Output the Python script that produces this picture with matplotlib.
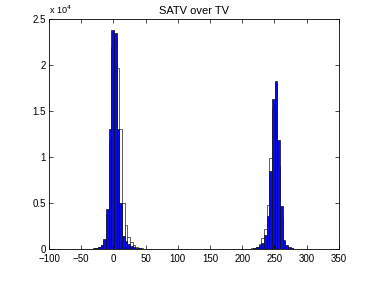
import matplotlib
matplotlib.use("Agg")
import matplotlib.pyplot as plt
from matplotlib.ticker import FuncFormatter

plt.rcParams['font.family'] = ['Liberation Sans', 'DejaVu Sans']

bin_width = 4.16
bin_centers = [-34.5, -30.3, -26.2, -22.0, -17.8, -13.7, -9.5, -5.4, -1.2, 3.0,
               7.1, 11.3, 15.4, 19.6, 23.8, 27.9, 32.1, 36.2, 40.4, 44.6, 48.7,
               206.8, 211.0, 215.1, 219.3, 223.4, 227.6, 231.8, 235.9, 240.1, 244.2,
               248.4, 252.6, 256.7, 260.9, 265.0, 269.2, 273.4, 277.5, 281.7, 285.8, 290.0]
tv_counts = [30, 50, 100, 200, 400, 900, 3800, 12000, 22000, 23000,
             19700, 13100, 5000, 2600, 1300, 800, 450, 250, 150, 80, 40,
             30, 40, 60, 120, 250, 500, 1200, 2200, 4800, 9850,
             15300, 18000, 9000, 3500, 800, 300, 150, 80, 40, 20, 10]
satv_counts = [30, 60, 120, 250, 450, 1100, 4400, 13100, 23800, 23500,
               13100, 5000, 1400, 900, 550, 350, 200, 120, 70, 40, 20,
               20, 30, 50, 100, 200, 400, 700, 1500, 3600, 8500,
               16300, 18300, 11800, 4700, 1000, 400, 200, 100, 50, 20, 10]
x_ticks = [-100, -50, 0, 50, 100, 150, 200, 250, 300, 350]
y_ticks = [0, 5000, 10000, 15000, 20000, 25000]

fig = plt.figure(figsize=(3.74, 2.81), dpi=100)
ax = fig.add_axes([0.131, 0.114, 0.775, 0.818])

ax.bar(bin_centers, tv_counts, width=bin_width, facecolor='white',
       edgecolor='#222222', linewidth=0.5)
ax.bar(bin_centers, satv_counts, width=bin_width, facecolor='#0a0ae6',
       edgecolor='#111111', linewidth=0.5)

ax.set_xlim(-100, 350)
ax.set_ylim(0, 25000)
ax.set_xticks(x_ticks)
ax.set_yticks(y_ticks)
ax.yaxis.set_major_formatter(FuncFormatter(lambda v, p: '%g' % (v / 1e4)))
ax.tick_params(direction='in', top=True, right=True, labelsize=7, length=3,
               width=0.5)
ax.tick_params(axis='x', pad=3.5)
ax.tick_params(axis='y', pad=2.5)
for s in ax.spines.values():
    s.set_linewidth(0.6)
ax.text(0.0, 1.015, r'x 10$^4$', transform=ax.transAxes, fontsize=6.5,
        ha='left', va='bottom')
ax.set_title('SATV over TV', fontsize=8, pad=4)

fig.savefig('out.png', dpi=100)
